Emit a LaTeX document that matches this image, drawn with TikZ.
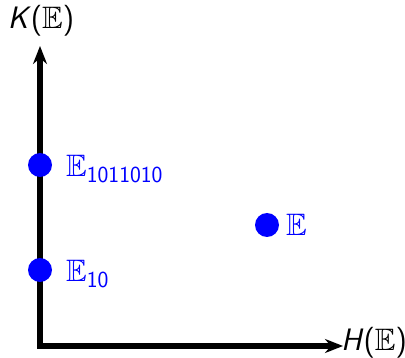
\documentclass[tikz,border=0pt]{standalone}
\usepackage{amsmath}
\usepackage{amssymb}
\usetikzlibrary{arrows.meta}
\newcommand{\ssub}[1]{\textsf{\upshape #1}}
\begin{document}
\begin{tikzpicture}[x=1pt,y=-1pt,
  lbl/.style={font=\fontsize{31}{36}\selectfont\sffamily, inner sep=0pt},
  dot/.style={circle, fill=blue, minimum size=24pt, inner sep=0pt},
  axis/.style={line width=5.5pt, {Stealth[length=18pt,width=14pt]}-{Stealth[length=18pt,width=14pt]}}]
\useasboundingbox (0,0) rectangle (405,358);
\coordinate (O) at (40,346);
\coordinate (ytip) at (40,46);
\coordinate (xtip) at (343,346);
\draw[axis] (ytip) -- (O) -- (xtip);
\node[lbl, anchor=center] (K) at (41,21) {\textit{K}($\mathbb{E}$)};
\node[lbl, anchor=west] (H) at (341,343) {\textit{H}($\mathbb{E}$)};
\node[dot] (d1) at (40,165) {};
\node[dot] (d2) at (40,270) {};
\node[dot] (d3) at (267,225) {};
\node[lbl, blue, anchor=west] (l1) at (66,169) {$\mathbb{E}_{\ssub{\fontsize{23}{26}\selectfont 1011010}}$};
\node[lbl, blue, anchor=west] (l2) at (66,274) {$\mathbb{E}_{\ssub{\fontsize{23}{26}\selectfont 10}}$};
\node[lbl, blue, anchor=west] (l3) at (286,225) {$\mathbb{E}$};
\end{tikzpicture}
\end{document}
